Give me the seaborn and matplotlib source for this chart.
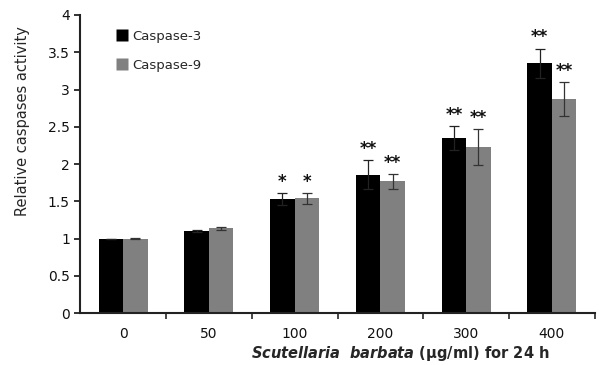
import matplotlib
matplotlib.use("Agg")
import matplotlib.pyplot as plt
import seaborn as sns
import pandas as pd
import numpy as np
from matplotlib.lines import Line2D
from matplotlib.ticker import FixedLocator

doses = ["0", "50", "100", "200", "300", "400"]
casp3 = [1.00, 1.10, 1.53, 1.86, 2.35, 3.35]
casp3_err = [0.0, 0.01, 0.08, 0.19, 0.16, 0.20]
casp9 = [1.00, 1.14, 1.54, 1.77, 2.23, 2.87]
casp9_err = [0.01, 0.02, 0.07, 0.10, 0.24, 0.23]
casp3_sig = ["", "", "*", "**", "**", "**"]
casp9_sig = ["", "", "*", "**", "**", "**"]
series = ["Caspase-3", "Caspase-9"]

df = pd.DataFrame({
    "dose": doses * 2,
    "value": casp3 + casp9,
    "series": [series[0]] * len(doses) + [series[1]] * len(doses),
})

sns.set_style("ticks")
plt.rcParams['font.family'] = ['DejaVu Sans']
plt.rcParams['mathtext.fontset'] = 'dejavusans'

fig = plt.figure(figsize=(5.99, 3.65), dpi=100)
ax = fig.add_axes([0.134, 0.142, 0.859, 0.817])

palette = {"Caspase-3": "#000000", "Caspase-9": "#808080"}
sns.barplot(data=df, x="dose", y="value", hue="series", order=doses,
            hue_order=series, palette=palette, errorbar=None,
            width=0.57, saturation=1, ax=ax, legend=False, edgecolor="none")

errs = [casp3_err, casp9_err]
sigs = [casp3_sig, casp9_sig]
ecols = ["#222222", "#333333"]
bar_containers = list(ax.containers)
for si, cont in enumerate(bar_containers):
    for i, p in enumerate(cont.patches):
        xc = p.get_x() + p.get_width() / 2
        h = p.get_height()
        ax.errorbar(xc, h, yerr=errs[si][i], fmt="none", ecolor=ecols[si],
                    elinewidth=0.9, capsize=3.5, capthick=0.9)
        if sigs[si][i]:
            ax.text(xc, h + errs[si][i] + 0.03, sigs[si][i], ha="center",
                    va="bottom", fontsize=12, fontweight="bold", color="#111111")

ax.set_xlim(-0.5, 5.5)
ax.set_ylim(0, 4)
ax.set_yticks([0, 0.5, 1, 1.5, 2, 2.5, 3, 3.5, 4])
ax.set_yticklabels(["0", "0.5", "1", "1.5", "2", "2.5", "3", "3.5", "4"])
ax.tick_params(axis="y", labelsize=10, length=4, width=1.2, direction="out", colors="#111111")
ax.tick_params(axis="x", which="major", length=0, labelsize=10, pad=10, colors="#111111")
ax.xaxis.set_minor_locator(FixedLocator([0.5, 1.5, 2.5, 3.5, 4.5, 5.5]))
ax.tick_params(axis="x", which="minor", length=4, width=1.2, direction="out")
sns.despine(ax=ax)
for s in ["left", "bottom"]:
    ax.spines[s].set_linewidth(1.5)
    ax.spines[s].set_color("#222222")

ax.set_ylabel("Relative caspases activity", fontsize=10.5)
ax.yaxis.set_label_coords(-0.098, 0.645)
ax.set_xlabel(r"$\mathbfit{Scutellaria\ \ barbata}$ (μg/ml) for 24 h",
              fontsize=10.5, fontweight="bold", labelpad=2, x=0.623)

handles = [Line2D([0], [0], marker="s", linestyle="none", markersize=8,
                  markerfacecolor=palette[s], markeredgecolor="none") for s in series]
ax.legend(handles, series, loc="upper left", bbox_to_anchor=(0.045, 0.99),
          frameon=False, fontsize=9.5, handletextpad=0.25, labelspacing=1.2,
          handlelength=1.0)

fig.savefig("out.png", dpi=100)
